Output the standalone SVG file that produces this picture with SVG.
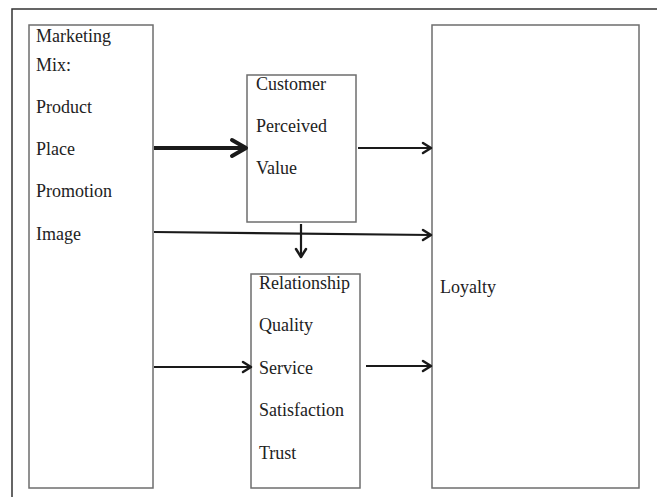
<svg xmlns="http://www.w3.org/2000/svg" width="657" height="497" viewBox="0 0 657 497">
<defs>
<style>
.box{fill:#fff;stroke:#6e6e6e;stroke-width:1.5}
.t{font-family:"Liberation Serif","Times New Roman",serif;font-size:18px;fill:#222}
.ln{stroke:#1a1a1a;fill:none;stroke-width:2.2}
.hd{stroke:#1a1a1a;fill:none;stroke-width:2.5;stroke-linecap:round;stroke-linejoin:round}
</style>
</defs>
<rect width="657" height="497" fill="#fff"/>
<path d="M12 497 V9 H657" fill="none" stroke="#333" stroke-width="1.5"/>
<g id="marketing">
<rect class="box" x="29" y="25" width="124" height="463"/>
<text class="t" x="36" y="42">Marketing</text>
<text class="t" x="36" y="71">Mix:</text>
<text class="t" x="36" y="113">Product</text>
<text class="t" x="36" y="155">Place</text>
<text class="t" x="36" y="197">Promotion</text>
<text class="t" x="36" y="240">Image</text>
</g>
<g id="cpv">
<rect class="box" x="247" y="75" width="109" height="147"/>
<text class="t" x="256" y="90">Customer</text>
<text class="t" x="256" y="132">Perceived</text>
<text class="t" x="256" y="174">Value</text>
</g>
<g id="relationship">
<rect class="box" x="251" y="274" width="109" height="214"/>
<text class="t" x="259" y="289">Relationship</text>
<text class="t" x="259" y="331">Quality</text>
<text class="t" x="259" y="374">Service</text>
<text class="t" x="259" y="416">Satisfaction</text>
<text class="t" x="259" y="459">Trust</text>
</g>
<g id="loyalty">
<rect class="box" x="432" y="25" width="207" height="463"/>
<text class="t" x="440" y="293">Loyalty</text>
</g>
<g id="connectors">
<line x1="154" y1="148" x2="245" y2="148" stroke="#1a1a1a" stroke-width="4"/>
<path d="M232 140 L246 148 L232 156" fill="none" stroke="#1a1a1a" stroke-width="4" stroke-linecap="round" stroke-linejoin="round"/>
<line class="ln" x1="358" y1="148" x2="431" y2="148"/>
<path class="hd" d="M423 143 L431 148 L423 153"/>
<line class="ln" x1="154" y1="232" x2="431" y2="235"/>
<path class="hd" d="M423 230 L431 235 L423 240"/>
<line class="ln" x1="301" y1="224" x2="301" y2="256"/>
<path class="hd" d="M296 249 L301 257 L306 249"/>
<line class="ln" x1="154" y1="367" x2="251" y2="367"/>
<path class="hd" d="M243 362 L251 367 L243 372"/>
<line class="ln" x1="366" y1="366" x2="431" y2="366"/>
<path class="hd" d="M423 361 L431 366 L423 371"/>
</g>
</svg>
